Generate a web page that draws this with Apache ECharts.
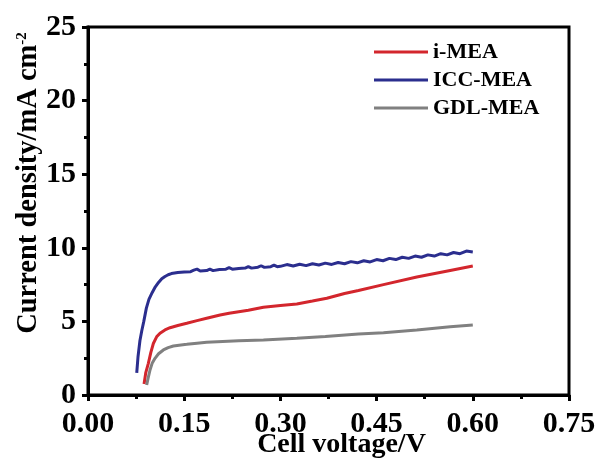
<!DOCTYPE html>
<html>
<head>
<meta charset="utf-8">
<script src="https://cdn.jsdelivr.net/npm/echarts@6/dist/echarts.min.js"></script>
<style>html,body{margin:0;padding:0;background:#fff}#c{width:602px;height:462px}</style>
</head>
<body>
<div id="c"></div>
<script>
var seriesNames = ['i-MEA', 'ICC-MEA', 'GDL-MEA'];
var xTicks = [0, 0.15, 0.30, 0.45, 0.60, 0.75];
var yTicks = [0, 5, 10, 15, 20, 25];

var iMEA = [
  [0.0874,0.75],[0.090,1.5],[0.0941,2.15],[0.098,2.9],[0.1019,3.5],[0.107,3.95],[0.1123,4.2],
  [0.120,4.42],[0.1279,4.57],[0.140,4.72],[0.154,4.87],[0.170,5.05],[0.185,5.21],[0.206,5.43],
  [0.220,5.55],[0.235,5.66],[0.250,5.76],[0.2735,5.96],[0.300,6.08],[0.3256,6.18],[0.350,6.38],
  [0.3724,6.57],[0.400,6.9],[0.4217,7.1],[0.4607,7.5],[0.5127,8.02],[0.5647,8.46],[0.600,8.76]
];
var iccMEA = [
  [0.076,1.5],[0.078,2.6],[0.081,3.7],[0.084,4.4],[0.087,5.0],[0.091,5.9],[0.095,6.5],[0.100,6.95],
  [0.105,7.35],[0.110,7.65],[0.115,7.9],[0.120,8.05],[0.125,8.17],[0.130,8.25],[0.140,8.32],
  [0.150,8.36],[0.160,8.38],[0.165,8.48],[0.170,8.55],[0.175,8.42],[0.185,8.45],[0.190,8.55],
  [0.195,8.45],[0.205,8.52],[0.215,8.55],[0.220,8.65],[0.225,8.55],[0.235,8.6],[0.245,8.62],
  [0.250,8.72],[0.255,8.62],[0.265,8.68],[0.270,8.78],[0.275,8.67],[0.285,8.72],[0.290,8.82],
  [0.295,8.72],[0.300,8.74],[0.310,8.86],[0.320,8.76],[0.330,8.88],[0.340,8.79],[0.350,8.92],
  [0.360,8.83],[0.370,8.96],[0.380,8.87],[0.390,9.0],[0.400,8.92],[0.410,9.06],[0.420,8.98],
  [0.430,9.12],[0.440,9.04],[0.450,9.2],[0.460,9.12],[0.470,9.28],[0.480,9.2],[0.490,9.36],
  [0.500,9.28],[0.510,9.44],[0.520,9.36],[0.530,9.52],[0.540,9.44],[0.550,9.6],[0.560,9.52],
  [0.570,9.68],[0.580,9.6],[0.590,9.78],[0.600,9.72]
];
var gdlMEA = [
  [0.0915,0.68],[0.094,1.2],[0.0967,1.7],[0.100,2.15],[0.1045,2.49],[0.110,2.8],[0.1175,3.06],
  [0.125,3.22],[0.1331,3.33],[0.145,3.4],[0.154,3.44],[0.170,3.52],[0.185,3.58],[0.210,3.64],
  [0.235,3.69],[0.2735,3.74],[0.3256,3.85],[0.370,3.98],[0.4217,4.14],[0.4607,4.23],
  [0.5127,4.42],[0.5647,4.64],[0.600,4.76]
];

var FONT = '"Liberation Serif","Times New Roman",serif';
var chart = echarts.init(document.getElementById('c'), null, {renderer: 'canvas'});
var colors = ['#d3262d', '#2b2e8e', '#808080'];

chart.setOption({
  animation: false,
  backgroundColor: '#fff',
  color: colors,
  grid: {left: 88, top: 27, right: 33, bottom: 67, outerBoundsMode: 'none', containLabel: false,
    show: true, borderColor: '#000', borderWidth: 3, backgroundColor: 'transparent'},
  legend: {
    data: seriesNames,
    orient: 'vertical',
    left: 374, top: 41,
    padding: 0,
    icon: 'rect',
    itemWidth: 54, itemHeight: 3,
    itemGap: 6,
    textStyle: {fontFamily: FONT, fontWeight: 'bold', fontSize: 22, lineHeight: 22, color: '#000'}
  },
  xAxis: {
    type: 'value', min: xTicks[0], max: xTicks[xTicks.length - 1], interval: 0.15,
    name: 'Cell voltage/V', nameLocation: 'middle', nameGap: 36, nameMoveOverlap: false,
    nameTextStyle: {fontFamily: FONT, fontWeight: 'bold', fontSize: 28, color: '#000', padding: [0, 0, 0, 26]},
    axisLine: {lineStyle: {color: '#000', width: 3}},
    axisTick: {show: true, inside: false, length: 6, lineStyle: {width: 3, color: '#000'}},
    minorTick: {show: true, splitNumber: 2, length: 4, lineStyle: {width: 3, color: '#000'}},
    splitLine: {show: false},
    axisLabel: {fontFamily: FONT, fontWeight: 'bold', fontSize: 30, color: '#000', margin: 14,
      formatter: function (v) { return v.toFixed(2); }}
  },
  yAxis: {
    type: 'value', min: yTicks[0], max: yTicks[yTicks.length - 1], interval: 5,
    axisLine: {lineStyle: {color: '#000', width: 3}},
    axisTick: {show: true, inside: false, length: 6, lineStyle: {width: 3, color: '#000'}},
    minorTick: {show: true, splitNumber: 2, length: 4, lineStyle: {width: 3, color: '#000'}},
    splitLine: {show: false},
    axisLabel: {fontFamily: FONT, fontWeight: 'bold', fontSize: 30, color: '#000', margin: 12}
  },
  graphic: [{
    type: 'text', x: 29, y: 183, rotation: Math.PI / 2,
    style: {
      text: '{a|Current density/mA cm}{s|-2}',
      align: 'center', verticalAlign: 'middle',
      rich: {
        a: {fontFamily: FONT, fontWeight: 'bold', fontSize: 28.5, fill: '#000'},
        s: {fontFamily: FONT, fontWeight: 'bold', fontSize: 15, fill: '#000', verticalAlign: 'top', padding: [0, 0, 14, 0]}
      }
    }
  }],
  series: [
    {name: seriesNames[0], type: 'line', data: iMEA, showSymbol: false, symbol: 'none', lineStyle: {width: 3, color: colors[0]}},
    {name: seriesNames[1], type: 'line', data: iccMEA, showSymbol: false, symbol: 'none', lineStyle: {width: 3, color: colors[1]}},
    {name: seriesNames[2], type: 'line', data: gdlMEA, showSymbol: false, symbol: 'none', lineStyle: {width: 3, color: colors[2]}}
  ]
});
</script>
</body>
</html>
